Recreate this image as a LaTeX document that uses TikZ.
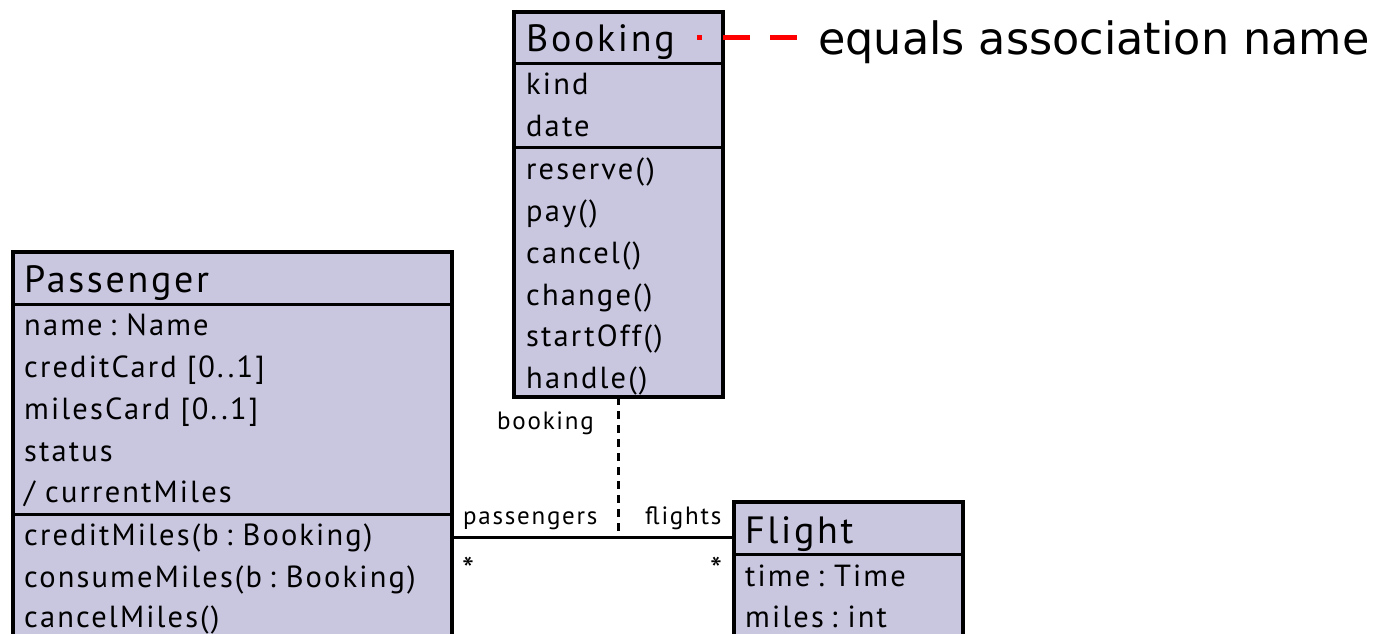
\documentclass[tikz,border=0pt]{standalone}
\usepackage{fontspec}
\setmainfont{PT Sans}[LetterSpace=7]
\newfontfamily\notefont{DejaVu Sans}
\newcommand{\umlcolon}{\hspace{7pt}:\hspace{10pt}}
\begin{document}
\begin{tikzpicture}[x=1pt,y=-1pt,
  classbox/.style={draw=black,line width=3.2pt,fill=umlfill},
  divider/.style={draw=black,line width=3pt},
  ttl/.style={anchor=base west,inner sep=0pt,font=\fontsize{38}{40}\selectfont},
  attr/.style={anchor=base west,inner sep=0pt,font=\fontsize{30.5}{32}\selectfont},
  lbl/.style={anchor=base west,inner sep=0pt,font=\fontsize{25}{28}\selectfont},
  mult/.style={anchor=base west,inner sep=0pt,font=\fontsize{34}{36}\selectfont},
  assoc/.style={draw=black,line width=3pt},
  assocdash/.style={draw=black,line width=3.4pt,dash pattern=on 8pt off 6pt},
  redlead/.style={draw=red,line width=5pt,dash pattern=on 5pt off 21pt on 27pt off 20pt on 27pt off 200pt}]
\definecolor{umlfill}{RGB}{201,199,224}
\useasboundingbox (0,0) rectangle (1379,633);
\clip (0,0) rectangle (1379,633);
\fill[white] (0,0) rectangle (1379,633);
% Booking
\draw[classbox] (514,12) rectangle (723,397);
\coordinate (Bs) at (618.5,397);
\draw[divider] (514,63) -- (723,63);
\draw[divider] (514,147) -- (723,147);
\node[ttl] (bt) at (526,51) {Booking};
\node[attr] (b1) at (526,94) {kind};
\node[attr] (b2) at (526,136) {date};
\node[attr] (b3) at (526,179) {reserve()};
\node[attr] (b4) at (526,221) {pay()};
\node[attr] (b5) at (526,263) {cancel()};
\node[attr] (b6) at (526,305) {change()};
\node[attr] (b7) at (526,346) {startOff()};
\node[attr] (b8) at (526,388) {handle()};
% Passenger
\draw[classbox] (13,252) rectangle (452,700);
\draw[divider] (13,304) -- (452,304);
\draw[divider] (13,514) -- (452,514);
\node[ttl] (pt) at (24,292) {Passenger};
\node[attr] (p1) at (24,335) {name\umlcolon Name};
\node[attr] (p2) at (24,377) {creditCard [0..1]};
\node[attr] (p3) at (24,419) {milesCard [0..1]};
\node[attr] (p4) at (24,461) {status};
\node[attr] (p5) at (24,502) {/ currentMiles};
\node[attr] (p6) at (24,545) {creditMiles(b\umlcolon Booking)};
\node[attr] (p7) at (24,587) {consumeMiles(b\umlcolon Booking)};
\node[attr] (p8) at (24,627) {cancelMiles()};
% Flight
\draw[classbox] (734,502) rectangle (963,700);
\draw[divider] (734,554) -- (963,554);
\node[ttl] (ft) at (745,543) {Flight};
\node[attr] (f1) at (745,586) {time\umlcolon Time};
\node[attr] (f2) at (745,627) {miles\umlcolon int};
% association
\coordinate (Pe) at (452,537);
\coordinate (Fw) at (734,537);
\coordinate (Am) at (618.5,537);
\draw[assoc] (Pe) -- (Fw);
\draw[assocdash] (Bs) -- (Am);
\node[lbl] (lb) at (497,429) {booking};
\node[lbl] (lp) at (463,524) {passengers};
\node[lbl] (lf) at (645,524) {flights};
\node[mult] (sp) at (462,581) {*};
\node[mult] (sf) at (710,581) {*};
% note
\coordinate (dot) at (697,37);
\node[anchor=base west,inner sep=0pt,font=\notefont\fontsize{44.5}{48}\selectfont] (note) at (818,54) {equals association name};
\coordinate (noteend) at (797,37);
\draw[redlead] (dot) -- (noteend);
\end{tikzpicture}
\end{document}
